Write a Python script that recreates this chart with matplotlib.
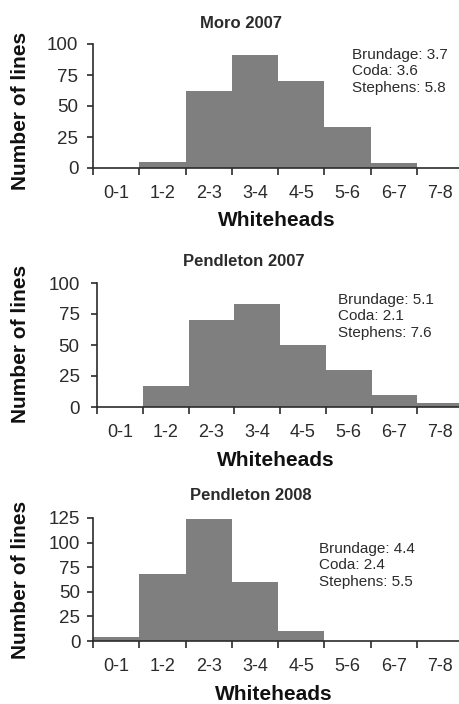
import matplotlib
matplotlib.use("Agg")
import matplotlib.pyplot as plt

plt.rcParams["font.family"] = ["Liberation Sans", "DejaVu Sans"]

# bins of whiteheads per panel
bins = ["0-1", "1-2", "2-3", "3-4", "4-5", "5-6", "6-7", "7-8"]

titles = ["Moro 2007", "Pendleton 2007", "Pendleton 2008"]

moro_2007 = [0, 5, 62, 91, 70, 33, 4, 0]
pendleton_2007 = [0, 17, 70, 83, 50, 30, 10, 3]
pendleton_2008 = [4, 68, 124, 60, 10, 0, 0, 0]
counts = [moro_2007, pendleton_2007, pendleton_2008]

notes = [
    "Brundage: 3.7\nCoda: 3.6\nStephens: 5.8",
    "Brundage: 5.1\nCoda: 2.1\nStephens: 7.6",
    "Brundage: 4.4\nCoda: 2.4\nStephens: 5.5",
]

y_max = [100, 100, 125]
y_ticks = [[0, 25, 50, 75, 100], [0, 25, 50, 75, 100], [0, 25, 50, 75, 100, 125]]

W, H = 460, 704
BAR = "#7f7f7f"
INK = "#2b2b2b"

# pixel layout: (left, right, y of zero line, y of top)
boxes = [(93, 463, 168, 44), (97, 463, 407, 283), (93, 463, 641, 518)]
title_pos = [(241, 24), (244, 261), (251, 496)]
xlabel_pos = [(277, 220), (276, 461), (274, 694)]
ylabel_y = [111, 344, 580]
note_pos = [(352, 48), (338, 293), (319, 542)]
ypads = [6, 8, 4.5]

fig = plt.figure(figsize=(W / 100, H / 100), dpi=100)

for i in range(3):
    l, r, b, t = boxes[i]
    ax = fig.add_axes([l / W, 1 - b / H, (r - l) / W, (b - t) / H])
    x = range(len(bins))
    ax.bar([k + 0.5 for k in x], counts[i], width=1.0, color=BAR,
           edgecolor="none", linewidth=0)
    ax.set_xlim(0, len(bins))
    ax.set_ylim(0, y_max[i])
    ax.set_yticks(y_ticks[i])

    ax.set_xticks(range(len(bins)))
    ax.set_xticklabels([])
    ax.set_xticks([k + 0.5 for k in x], minor=True)
    ax.set_xticklabels(bins, minor=True)

    for s in ["top", "right"]:
        ax.spines[s].set_visible(False)
    for s in ["left", "bottom"]:
        ax.spines[s].set_color(INK)
        ax.spines[s].set_linewidth(1.2)

    ax.tick_params(axis="x", which="major", direction="out", length=5,
                   width=1.2, color=INK)
    ax.tick_params(axis="x", which="minor", length=0, pad=12.5,
                   labelsize=13, labelcolor=INK)
    ax.tick_params(axis="y", direction="out", length=4.5, width=1.2,
                   color=INK, pad=ypads[i], labelsize=13.5, labelcolor=INK)

    tx, ty = title_pos[i]
    fig.text(tx / W, 1 - ty / H, titles[i], ha="center", va="center",
             fontsize=12, fontweight="bold", color=INK)
    lx, ly = xlabel_pos[i]
    fig.text(lx / W, 1 - ly / H, "Whiteheads", ha="center", va="center",
             fontsize=15, fontweight="bold", color="#111111")
    fig.text(21 / W, 1 - ylabel_y[i] / H, "Number of lines", ha="center",
             va="center", rotation=90, fontsize=15, fontweight="bold",
             color="#111111")
    nx, ny = note_pos[i]
    fig.text(nx / W, 1 - ny / H, notes[i], ha="left", va="top",
             fontsize=11, color=INK, linespacing=1.22)

fig.savefig("out.png", dpi=100)
